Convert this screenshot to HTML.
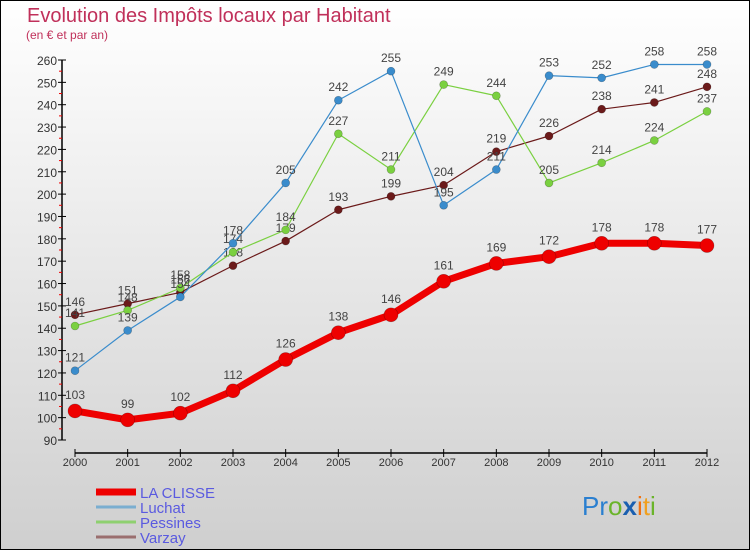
<!DOCTYPE html>
<html><head><meta charset="utf-8">
<style>
body{margin:0;}
#wrap{width:750px;height:550px;position:relative;overflow:hidden;font-family:"Liberation Sans",sans-serif;}
</style></head>
<body>
<div id="wrap">
<svg id="chart" width="750" height="550" xmlns="http://www.w3.org/2000/svg">
<defs>
<linearGradient id="bg" x1="0" y1="0" x2="0" y2="1">
<stop offset="0" stop-color="#ffffff"/><stop offset="1" stop-color="#cfcfcf"/>
</linearGradient>
</defs>
<rect x="0.5" y="0.5" width="749" height="549" fill="url(#bg)" stroke="#000"/>
<text x="27" y="22" font-size="20" fill="#c0305a">Evolution des Impôts locaux par Habitant</text>
<text x="26" y="39" font-size="12" fill="#c0305a">(en € et par an)</text>
<g id="axes"></g>
<g id="series"></g>
<g id="legend"></g>
<text x="582" y="515" font-size="26" fill="#2a7fd0">Pr<tspan fill="#6ab42a">o</tspan><tspan fill="#1a5fb0" font-weight="bold">x</tspan><tspan fill="#f07010">i</tspan><tspan fill="#f0a020">t</tspan><tspan fill="#6ab42a">i</tspan></text>
</svg>
</div>
<script>
const years=[2000,2001,2002,2003,2004,2005,2006,2007,2008,2009,2010,2011,2012];
const laClisse=[103,99,102,112,126,138,146,161,169,172,178,178,177];
const luchat=[121,139,154,178,205,242,255,195,211,253,252,258,258];
const pessines=[141,148,158,174,184,227,211,249,244,205,214,224,237];
const varzay=[146,151,156,168,179,193,199,204,219,226,238,241,248];
const yTicks=[90,100,110,120,130,140,150,160,170,180,190,200,210,220,230,240,250,260];
const seriesNames=["LA CLISSE","Luchat","Pessines","Varzay"];

const NS="http://www.w3.org/2000/svg";
const yMin=90,yMax=260,yTop=60,yBot=440,x0=75,x1=707;
function X(i){return x0+(x1-x0)*i/(years.length-1);}
function Y(v){return yBot-(v-yMin)*(yBot-yTop)/(yMax-yMin);}
function mk(tag,attrs,parent){const e=document.createElementNS(NS,tag);for(const k in attrs)e.setAttribute(k,attrs[k]);parent.appendChild(e);return e;}

const axes=document.getElementById('axes');
const ya=mk('line',{x1:62,y1:yTop,x2:62,y2:yBot,stroke:'#000','stroke-width':1.5},axes);


yTicks.forEach((t,i)=>{
  const y=Y(t);
  mk('line',{x1:58,y1:y,x2:66,y2:y,stroke:'#000'},axes);
  const tx=mk('text',{x:57,y:y+5,'font-size':12,fill:'#333','text-anchor':'end'},axes);
  tx.textContent=t;
  
  
  if(i<yTicks.length-1) mk('line',{x1:59,y1:Y(t+5),x2:62,y2:Y(t+5),stroke:'#e00'},axes);
});
const xa=mk('line',{x1:x0,y1:453,x2:x1,y2:453,stroke:'#000','stroke-width':1.5},axes);


years.forEach((yr,i)=>{
  mk('line',{x1:X(i),y1:449,x2:X(i),y2:457,stroke:'#000'},axes);
  const tx=mk('text',{x:X(i),y:466,'font-size':11,fill:'#333','text-anchor':'middle'},axes);
  tx.textContent=yr;
  
  
});

const sg=document.getElementById('series');
function drawSeries(data,color,w,r,name){
  const g=mk('g',{},sg);
  
  
  const pts=data.map((v,i)=>X(i)+','+Y(v)).join(' ');
  mk('polyline',{points:pts,fill:'none',stroke:color,'stroke-width':w,'stroke-linejoin':'round'},g);
  data.forEach((v,i)=>{
    const c=mk('circle',{cx:X(i),cy:Y(v),r:r,fill:color,stroke:'rgba(0,0,0,0.3)','stroke-width':0.6},g);
    
    
    const t=mk('text',{x:X(i),y:Y(v)-(r+5),'font-size':12,fill:'#444','text-anchor':'middle'},g);
    t.textContent=v;
  });
}
drawSeries(varzay,'#6b1a1a',1.2,4,'varzay-series');
drawSeries(pessines,'#7ad040',1.2,4,'pessines-series');
drawSeries(luchat,'#3a8ccc',1.2,4,'luchat-series');
drawSeries(laClisse,'#ee0000',7,7,'la-clisse-series');

const lg=document.getElementById('legend');
const lcolors=['#ee0000','#7aaed0','#8ed070','#9a6e6e'];
const lw=[7,3,3,3];
seriesNames.forEach((n,i)=>{
  const y=492+i*15;
  const g=mk('g',{},lg);
  
  
  mk('line',{x1:96,y1:y,x2:136,y2:y,stroke:lcolors[i],'stroke-width':lw[i]},g);
  const t=mk('text',{x:140,y:y+6,'font-size':15,fill:'#5a5ae0'},g);
  t.textContent=n;
});
</script>
</body></html>
